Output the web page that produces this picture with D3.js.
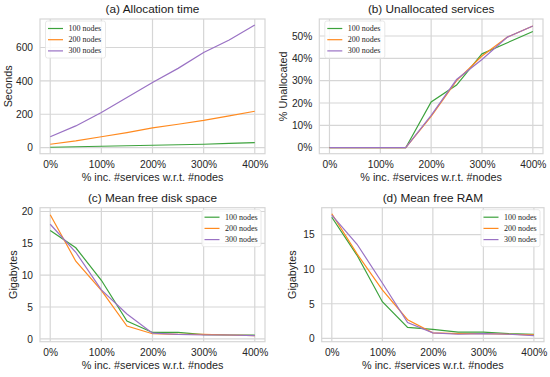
<!DOCTYPE html>
<html>
<head>
<meta charset="utf-8">
<script src="https://cdn.jsdelivr.net/npm/d3@7"></script>
<style>
  body { margin: 0; background: #fff; }
  svg { display: block; font-family: "Liberation Sans", Arial, sans-serif; }
  .grid line, .frame { stroke: #d6d6d6; stroke-width: 1.2; fill: none; }
  .tick text { fill: #262626; font-size: 10.2px; }
  .title { fill: #1a1a1a; font-size: 11.8px; }
  .label { fill: #262626; font-size: 10.8px; }
  .legend text { font-family: "Liberation Serif", "Times New Roman", serif; font-size: 8px; fill: #262626; }
</style>
</head>
<body>
<svg width="550" height="377"></svg>
<script>
// x positions: % increase of #services w.r.t. #nodes
const increase = [0, 50, 100, 150, 200, 250, 300, 350, 400];
const seriesNames = ["100 nodes", "200 nodes", "300 nodes"];
const seriesColors = ["#3ca23c", "#ff8a1f", "#9a72c4"];

// (a) Allocation time, seconds
const allocTime100 = [2, 5, 8, 11, 14, 17, 20, 25, 30];
const allocTime200 = [20, 40, 65, 90, 118, 140, 163, 190, 218];
const allocTime300 = [65, 130, 210, 300, 390, 475, 570, 645, 735];

// (b) Unallocated services, %
const unalloc100 = [0, 0, 0, 0, 20.5, 28, 42, 47, 52];
const unalloc200 = [0, 0, 0, 0, 14, 30, 41, 49.5, 54.5];
const unalloc300 = [0, 0, 0, 0, 14.5, 30.5, 39.5, 49.5, 54.5];

// (c) Mean free disk space, GB
const disk100 = [17, 14.3, 9.2, 2.8, 1.0, 1.0, 0.65, 0.6, 0.6];
const disk200 = [19.5, 12.2, 7.6, 2.0, 0.8, 0.7, 0.7, 0.6, 0.5];
const disk300 = [18, 13.6, 7.7, 3.9, 0.9, 0.7, 0.6, 0.6, 0.5];

// (d) Mean free RAM, GB
const ram100 = [17.5, 12, 5.3, 1.6, 1.3, 0.9, 0.9, 0.7, 0.6];
const ram200 = [18, 12.2, 7, 2.7, 0.8, 0.7, 0.7, 0.6, 0.5];
const ram300 = [17.8, 13.6, 8, 2.3, 0.8, 0.6, 0.7, 0.6, 0.4];

const xTicks = [0, 100, 200, 300, 400];
const xLabel = "% inc. #services w.r.t. #nodes";

const panels = [
  { title: "(a) Allocation time", ylabel: "Seconds", series: [allocTime100, allocTime200, allocTime300],
    yTicks: [0, 200, 400, 600], yFmt: (d) => d, yDomain: [-36.6, 771],
    box: { l: 40, r: 265, t: 19, b: 153.7 }, ylabelX: 8, legend: "left" },
  { title: "(b) Unallocated services", ylabel: "% Unallocated", series: [unalloc100, unalloc200, unalloc300],
    yTicks: [0, 10, 20, 30, 40, 50], yFmt: (d) => d + "%", yDomain: [-2.7, 57.6],
    box: { l: 319.3, r: 543, t: 19, b: 153.7 }, ylabelX: 283, legend: "left" },
  { title: "(c) Mean free disk space", ylabel: "Gigabytes", series: [disk100, disk200, disk300],
    yTicks: [0, 5, 10, 15, 20], yFmt: (d) => d, yDomain: [-0.45, 20.6],
    box: { l: 40, r: 265, t: 207.7, b: 341.7 }, ylabelX: 12.7, legend: "right" },
  { title: "(d) Mean free RAM", ylabel: "Gigabytes", series: [ram100, ram200, ram300],
    yTicks: [0, 5, 10, 15], yFmt: (d) => d, yDomain: [-0.48, 18.88],
    box: { l: 321.7, r: 544, t: 207.7, b: 341.7 }, ylabelX: 291.7, legend: "right" },
];

const svg = d3.select("svg");

panels.forEach((p) => {
  const { l, r, t, b } = p.box;
  const x = d3.scaleLinear([-20, 420], [l, r]);
  const y = d3.scaleLinear(p.yDomain, [b, t]);
  const g = svg.append("g");

  // grid
  const grid = g.append("g").attr("class", "grid");
  grid.selectAll("line.v").data(xTicks).join("line").attr("class", "v")
    .attr("x1", (d) => x(d)).attr("x2", (d) => x(d)).attr("y1", t).attr("y2", b);
  grid.selectAll("line.h").data(p.yTicks).join("line").attr("class", "h")
    .attr("x1", l).attr("x2", r).attr("y1", (d) => y(d)).attr("y2", (d) => y(d));
  g.append("rect").attr("class", "frame").attr("x", l).attr("y", t).attr("width", r - l).attr("height", b - t);

  // axes (labels only, seaborn style)
  const xa = g.append("g").attr("transform", `translate(0,${b})`)
    .call(d3.axisBottom(x).tickValues(xTicks).tickFormat((d) => d + "%").tickSize(0).tickPadding(6.6));
  const ya = g.append("g").attr("transform", `translate(${l},0)`)
    .call(d3.axisLeft(y).tickValues(p.yTicks).tickFormat(p.yFmt).tickSize(0).tickPadding(7));
  [xa, ya].forEach((a) => a.select(".domain").remove());

  // lines
  const line = d3.line().x((d, i) => x(increase[i])).y((d) => y(d));
  g.selectAll("path.series").data(p.series).join("path").attr("class", "series")
    .attr("d", line).attr("fill", "none").attr("stroke-width", 1.2)
    .attr("stroke", (d, i) => seriesColors[i]);

  // titles
  g.append("text").attr("class", "title").attr("x", (l + r) / 2).attr("y", t - 6)
    .attr("text-anchor", "middle").text(p.title);
  g.append("text").attr("class", "label").attr("x", (l + r) / 2).attr("y", b + 27.5)
    .attr("text-anchor", "middle").text(xLabel);
  g.append("text").attr("class", "label")
    .attr("transform", `translate(${p.ylabelX},${(t + b) / 2}) rotate(-90)`)
    .attr("text-anchor", "middle").attr("dominant-baseline", "central").text(p.ylabel);

  // legend
  const lw = p.legend === "left" ? 60 : 59;
  const lx = p.legend === "left" ? l + 5.5 : r - lw - 4;
  const leg = g.append("g").attr("class", "legend").attr("transform", `translate(${lx},${t + 2})`);
  leg.append("rect").attr("width", lw).attr("height", 37).attr("rx", 2)
    .attr("fill", "rgba(255,255,255,0.85)").attr("stroke", "#e2e2e2").attr("stroke-width", 0.8);
  const rows = leg.selectAll("g.row").data(seriesNames).join("g").attr("class", "row")
    .attr("transform", (d, i) => `translate(0,${7.5 + i * 11.2})`);
  rows.append("line").attr("x1", 2.5).attr("x2", 17.5)
    .attr("stroke", (d, i) => seriesColors[i]).attr("stroke-width", 1.2);
  rows.append("text").attr("x", 23).attr("dominant-baseline", "central").text((d) => d);
});
</script>
</body>
</html>
